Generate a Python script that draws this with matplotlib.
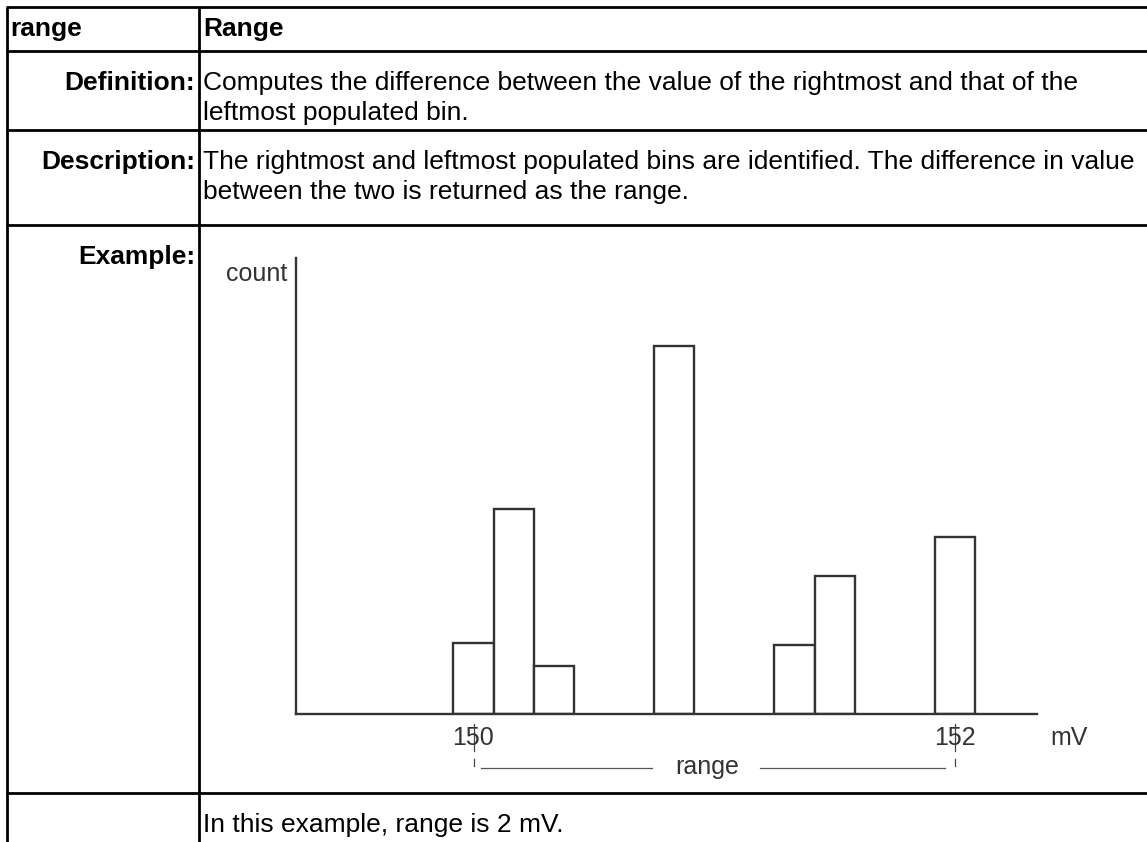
import matplotlib
matplotlib.use("Agg")
import matplotlib.pyplot as plt

# ---- histogram example data ----
BIN_WIDTH_MV = 1 / 6                       # width of one bin in mV
bin_index = [0, 1, 2, 5, 8, 9, 12]         # populated bins, counted from the leftmost one
counts = [3.1, 8.9, 2.1, 16.0, 3.0, 6.0, 7.7]
first_bin_mv = 150
tick_values = [150, 152]
tick_labels = ["150", "152"]
x_unit = "mV"
y_label = "count"
range_label = "range"

# ---- table text ----
header_left = "range"
header_right = "Range"
definition_lines = ["Computes the difference between the value of the rightmost and that of the",
                    "leftmost populated bin."]
description_lines = ["The rightmost and leftmost populated bins are identified. The difference in value",
                     "between the two is returned as the range."]
result_line = "In this example, range is 2 mV."

W, H = 1147, 842
fig = plt.figure(figsize=(W / 100, H / 100), dpi=100)
fig.patch.set_facecolor("white")

# full-figure axes in pixel units for the table grid and text
bg = fig.add_axes([0, 0, 1, 1])
bg.set_xlim(0, W)
bg.set_ylim(H, 0)
bg.axis("off")

FONT = "Liberation Sans"
BODY = 19
grid_kw = dict(color="black", lw=2.0, solid_capstyle="butt")

row_lines = [7, 51, 130, 225, 793]
left_edge, divider = 7, 199
for y in row_lines:
    bg.plot([left_edge - 1, W], [y, y], **grid_kw)
bg.plot([left_edge, left_edge], [row_lines[0], H], **grid_kw)
bg.plot([divider, divider], [row_lines[0], H], **grid_kw)

txt = dict(family=FONT, fontsize=BODY, va="center", color="black")
bg.text(10, 29, header_left, fontweight="bold", ha="left", **txt)
bg.text(203, 29, header_right, fontweight="bold", ha="left", **txt)

pad, lead = 32, 30
blocks = [(row_lines[1], "Definition:", definition_lines),
          (row_lines[2], "Description:", description_lines),
          (row_lines[3], "Example:", []),
          (row_lines[4], "", [result_line])]
for top, label, lines in blocks:
    if label:
        bg.text(195, top + pad, label, fontweight="bold", ha="right", **txt)
    for i, line in enumerate(lines):
        bg.text(203, top + pad + i * lead, line, ha="left", **txt)

# ---- histogram ----
ax_px = dict(left=296, right=1037, top=258, bottom=714)
centers = [first_bin_mv + i * BIN_WIDTH_MV for i in bin_index]
px_per_mv = 40.125 / BIN_WIDTH_MV
x0 = first_bin_mv + (ax_px["left"] - 473.5) / px_per_mv
x1 = first_bin_mv + (ax_px["right"] - 473.5) / px_per_mv

ax = fig.add_axes([ax_px["left"] / W, (H - ax_px["bottom"]) / H,
                   (ax_px["right"] - ax_px["left"]) / W,
                   (ax_px["bottom"] - ax_px["top"]) / H])
ax.patch.set_alpha(0)
ink = "#333333"
ax.bar(centers, counts, width=BIN_WIDTH_MV, facecolor="white",
       edgecolor=ink, linewidth=1.7, zorder=2)
ax.set_xlim(x0, x1)
ax.set_ylim(0, 456 / 23)
for s in ("top", "right"):
    ax.spines[s].set_visible(False)
for s in ("left", "bottom"):
    ax.spines[s].set_color(ink)
    ax.spines[s].set_linewidth(1.7)
ax.set_xticks([])
ax.set_yticks([])

chart_txt = dict(family=FONT, fontsize=18, color="#333333")
xt = ax.get_xaxis_transform()
ph = ax_px["bottom"] - ax_px["top"]


def yfrac(py):
    return (ax_px["bottom"] - py) / ph


for v, lab in zip(tick_values, tick_labels):
    ax.text(v, yfrac(738), lab, transform=xt, ha="center", va="center",
            clip_on=False, **chart_txt)
    ax.plot([v, v], [yfrac(724), yfrac(751)], transform=xt, color="#444444",
            lw=0.9, clip_on=False)
    ax.plot([v, v], [yfrac(759), yfrac(766)], transform=xt, color="#444444",
            lw=0.9, clip_on=False)

mid = 150.97
ax.text(mid, yfrac(767), range_label, transform=xt, ha="center", va="center",
        clip_on=False, **chart_txt)
ax.plot([150.03, 150.74], [yfrac(768), yfrac(768)], transform=xt,
        color="#555555", lw=0.9, clip_on=False)
ax.plot([151.19, 151.96], [yfrac(768), yfrac(768)], transform=xt,
        color="#555555", lw=0.9, clip_on=False)

bg.text(287, 274, y_label, ha="right", va="center", **chart_txt)
bg.text(1050, 738, x_unit, ha="left", va="center", **chart_txt)

fig.savefig("out.png", dpi=100, facecolor="white")
